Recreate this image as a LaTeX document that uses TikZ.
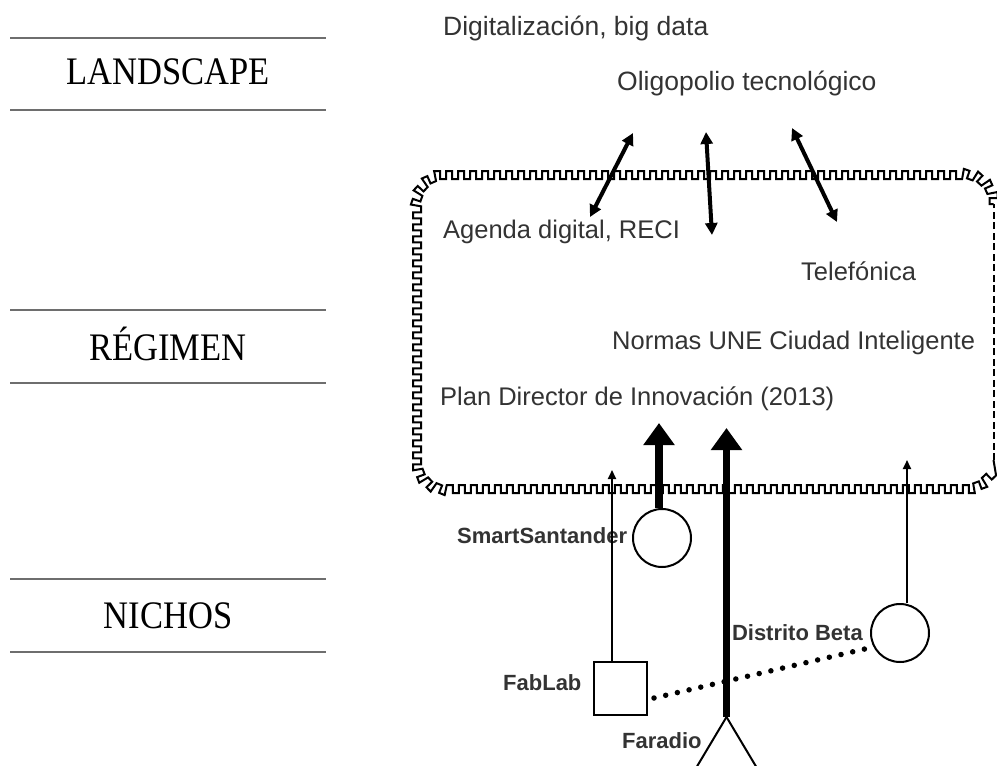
\documentclass[tikz,border=0pt]{standalone}
\usepackage{fontspec}
\setmainfont{Liberation Sans}
\newfontfamily\levelserif{Liberation Serif}
\usetikzlibrary{arrows.meta,decorations}
\definecolor{txtgray}{HTML}{333333}
\definecolor{sepgray}{HTML}{6E6E6E}
\pgfdeclaredecoration{sqwave}{wave}{
  \state{wave}[width=\pgfdecorationsegmentlength]{
    \pgfsetcornersarced{\pgfpointorigin}
    \pgfpathlineto{\pgfpoint{0pt}{\pgfdecorationsegmentamplitude}}
    \pgfpathlineto{\pgfpoint{0.5\pgfdecorationsegmentlength}{\pgfdecorationsegmentamplitude}}
    \pgfpathlineto{\pgfpoint{0.5\pgfdecorationsegmentlength}{-\pgfdecorationsegmentamplitude}}
    \pgfpathlineto{\pgfpoint{\pgfdecorationsegmentlength}{-\pgfdecorationsegmentamplitude}}
  }
  \state{final}{\pgfsetcornersarced{\pgfpointorigin}\pgfpathlineto{\pgfpointdecoratedpathlast}}
}
\tikzset{
  txt/.style={text=txtgray, font=\fontsize{25.5}{30}\selectfont, inner sep=0pt, anchor=base west},
  txtb/.style={txt, font=\fontsize{26.5}{30}\selectfont},
  bl/.style={text=txtgray, font=\fontsize{22}{26}\selectfont\bfseries, inner sep=0pt, anchor=base west},
  lvl/.style={font=\levelserif\fontsize{34.5}{40}\selectfont, inner sep=0pt, anchor=base},
  sepline/.style={draw=sepgray, line width=2.5pt},
  twoway/.style={line width=4pt, {Triangle[length=12pt,width=12pt]}-{Triangle[length=12pt,width=12pt]}},
  bigup/.style={line width=8pt, -{Triangle[length=22pt,width=30pt]}},
  thinup/.style={line width=2pt, -{Triangle[length=9pt,width=8pt]}},
  dotline/.style={line width=5.5pt, line cap=round, dash pattern=on 0pt off 12pt},
  wavy/.style={line width=2pt, decorate, decoration={sqwave, segment length=12pt, amplitude=4pt}},
  dashedge/.style={line width=2pt, dash pattern=on 7pt off 3.5pt},
  nichecirc/.style={circle, draw, line width=2pt, minimum size=58pt, inner sep=0pt},
  nichesq/.style={rectangle, draw, line width=2pt, minimum size=53pt, inner sep=0pt},
}
\begin{document}
\begin{tikzpicture}[x=1pt,y=-1pt]
\useasboundingbox (0,0) rectangle (997,766);
% level separators and labels
\draw[sepline] (10,38) -- (326,38);
\draw[sepline] (10,110) -- (326,110);
\draw[sepline] (10,310) -- (326,310);
\draw[sepline] (10,383) -- (326,383);
\draw[sepline] (10,579) -- (326,579);
\draw[sepline] (10,652) -- (326,652);
\node[lvl] (landscape) at (168,84) {\scalebox{1}[1.13]{LANDSCAPE}};
\node[lvl] (regimen) at (168,360) {\scalebox{1}[1.13]{RÉGIMEN}};
\node[lvl] (nichos) at (168,628) {\scalebox{1}[1.13]{NICHOS}};

% regime box
\draw[wavy, rounded corners=29pt] (993.5,204) -- (993.5,175) -- (417,175) -- (417,489) -- (993.5,489) -- (993.5,460);
\draw[dashedge] (993.5,460) -- (993.5,204);

% texts
\node[txtb] (digital) at (443,35) {Digitalización, big data};
\node[txtb] (oligo) at (617,90) {Oligopolio tecnológico};
\node[txt] (agenda) at (443,238) {Agenda digital, RECI};
\node[txt] (telef) at (801,280) {Telefónica};
\node[txt] (normas) at (612,349) {Normas UNE Ciudad Inteligente};
\node[txt] (plan) at (440,405) {Plan Director de Innovación (2013)};

% landscape-regime links
\coordinate (a1) at (633,133); \coordinate (b1) at (590,217);
\coordinate (a2) at (706,132); \coordinate (b2) at (712,235);
\coordinate (a3) at (792,128); \coordinate (b3) at (837,222);
\draw[twoway] (a1) -- (b1);
\draw[twoway] (a2) -- (b2);
\draw[twoway] (a3) -- (b3);

% niches
\node[nichecirc] (smart) at (662,538) {};
\node[nichecirc] (beta) at (900,633) {};
\node[nichesq] (fablab) at (620.5,688.5) {};
\coordinate (faradio) at (726.5,717);
\draw[line width=2pt] (faradio) -- ++(-37,62);
\draw[line width=2pt] (faradio) -- ++(37,62);

\node[bl] (smartlbl) at (457,543) {SmartSantander};
\node[bl] (fablbl) at (503,690) {FabLab};
\node[bl, anchor=base east] (betalbl) at (863,640) {Distrito Beta};
\node[bl] (faralbl) at (622,748) {Faradio};

% niche arrows
\coordinate (smarttip) at (659,423);
\coordinate (faratip) at (726.5,428);
\coordinate (fabtip) at (612,470);
\coordinate (betatip) at (907,460);
\draw[bigup] (smarttip |- smart.north) -- (smarttip);
\draw[bigup, line width=7pt] (faradio) -- (faratip);
\draw[thinup] (fabtip |- fablab.north) -- (fabtip);
\draw[thinup] (betatip |- beta.north) -- (betatip);

% dotted link
\coordinate (dotA) at (654,698);
\coordinate (dotB) at (869,648);
\draw[dotline] (dotA) -- (dotB);
\end{tikzpicture}
\end{document}
